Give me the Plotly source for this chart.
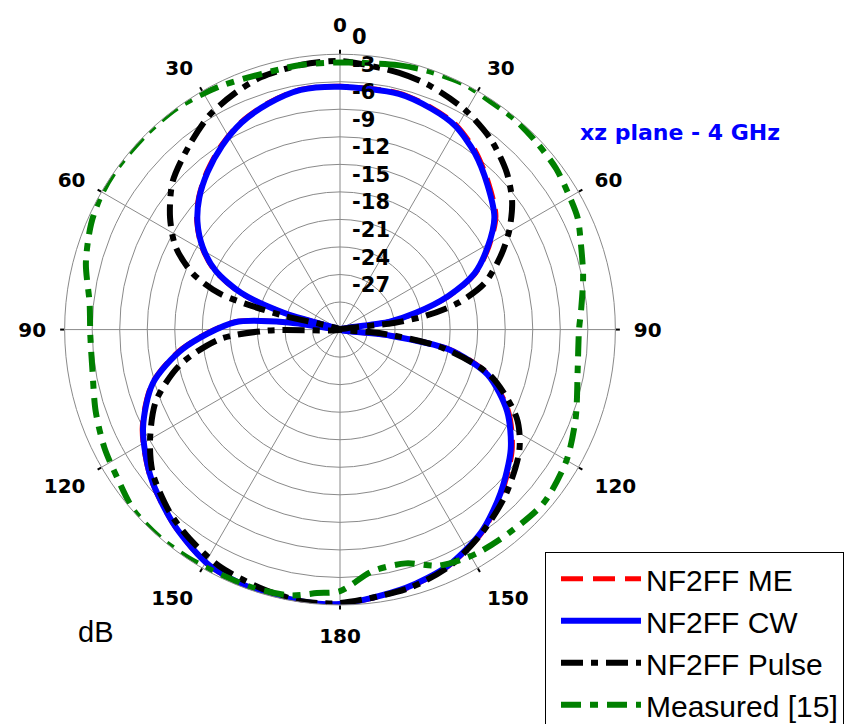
import plotly.graph_objects as go

# ---- data (angle in degrees from top, clockwise; value in dB) ----
theta_cw = [0, 14, 22.5, 29.5, 37.3, 45.6, 54, 60.8, 67.4, 72.8, 77.5, 81, 88,
            96.8, 100.3, 107, 116, 125, 135.5, 145, 155.4, 165.7, 180,
            -172, -161, -151, -140, -127.9, -116.6, -106, -97, -86, -82, -78,
            -73.4, -69.7, -64.7, -59, -52.8, -46.9, -40.2, -32.7, -25.5, -17.6, -9.3, 0]
db_cw = [-3.54, -3.54, -3.96, -4.5, -5.79, -7.5, -9.21, -11.57, -14.14, -17.68, -21.54, -24.6, -30,
         -24.64, -18.0, -13.18, -9.75, -7.29, -5.04, -3.11, -1.71, -0.96, -0.1,
         -0.1, -0.21, -0.64, -2.04, -3.86, -6.0, -8.79, -12.75, -18.54, -24.6, -30,
         -23.68, -18.54, -15.0, -12.54, -10.5, -9.0, -7.61, -6.21, -5.04, -4.18, -3.54, -3.54]

theta_me = [0, 14, 22.5, 29.5, 37.3, 45.6, 54, 60.8, 67.4, 72.8, 77.5, 81, 88,
            96.8, 100.3, 107, 116, 125, 135.5, 145, 155.4, 165.7, 180,
            -172, -161, -151, -140, -127.9, -116.6, -106, -97, -86, -82, -78,
            -73.4, -69.7, -64.7, -59, -52.8, -46.9, -40.2, -32.7, -25.5, -17.6, -9.3, 0]
db_me = [-3.5, -3.45, -3.85, -4.35, -5.6, -7.3, -9.0, -11.4, -14.0, -17.5, -21.4, -24.5, -30,
         -24.5, -17.8, -13.0, -9.55, -7.1, -4.9, -3.0, -1.65, -0.9, -0.1,
         -0.1, -0.2, -0.6, -2.0, -3.8, -5.9, -8.7, -12.6, -18.4, -24.5, -30,
         -23.5, -18.4, -14.85, -12.4, -10.4, -8.9, -7.5, -6.1, -4.95, -4.1, -3.5, -3.5]

theta_pulse = [0, 13, 20.6, 29.6, 38.3, 46.7, 53.4, 59.8, 65.6, 72.3, 77.3, 80.9, 83, 88,
               95, 100, 107, 116.6, 124, 135, 145, 155, 165, 180,
               -171.8, -163, -152.9, -144.3, -137, -127.5, -120.4, -111.3, -102.5, -94.6, -90.8, -84,
               -76.2, -75, -73.3, -69.2, -63.3, -56.6, -48.6, -39.3, -31.5, -24, -17.3, -8.5, 0]
db_pulse = [-0.75, -1.29, -1.71, -2.46, -3.54, -5.04, -6.64, -8.68, -10.82, -13.5, -16.82, -20.57, -24.11, -30,
            -25.71, -18.75, -12.86, -8.46, -6.43, -4.5, -3.0, -1.61, -0.86, -0.21,
            -0.11, -0.54, -1.07, -1.93, -2.79, -4.29, -6.0, -8.46, -12.11, -16.82, -22.18, -30,
            -23.68, -20.04, -16.29, -12.86, -9.96, -7.82, -5.68, -4.07, -2.68, -1.82, -1.18, -0.86, -0.75]

theta_meas = [0, 12.4, 19.4, 27, 33.4, 39.6, 46.5, 53.3, 59.5, 64.8, 70.4, 77.7, 85.3, 90,
              99.4, 110.6, 120, 130.4, 140, 147.7, 151.4, 157.4, 164.3, 172.4, 180,
              -175, -169.5, -161.7, -154.4, -146.7, -139.3, -131.5, -123.5, -116.6, -108.5,
              -99, -91.3, -84, -75.4, -67, -60, -53.7, -45, -36.3, -26.5, -17, -8.5, 0]
db_meas = [-0.9, -0.5, -0.2, 0, -0.21, -0.21, -0.43, -0.64, -1.07, -1.39, -2.14, -2.89, -3.64, -3.96,
           -3.75, -2.57, -1.5, -0.86, -1.18, -1.39, -1.61, -2.14, -3.54, -3.43, -1.5,
           -1.18, -0.54, -0.32, -0.32, -0.11, 0, -0.11, -0.86, -1.29, -1.93,
           -2.68, -2.79, -2.57, -1.39, -0.54, -0.11, 0, 0, 0, -0.43, -0.86, -0.86, -0.9]

angle_ticks = [0, 30, 60, 90, 120, 150, 180, 210, 240, 270, 300, 330]
angle_labels = ["0", "30", "60", "90", "120", "150", "180", "150", "120", "90", "60", "30"]
db_ticks = [0, -3, -6, -9, -12, -15, -18, -21, -24, -27]
db_labels = ["0", "-3", "-6", "-9", "-12", "-15", "-18", "-21", "-24", "-27"]
ring_vals = [-27, -24, -21, -18, -15, -12, -9, -6, -3, 0]

W, H = 859, 724
DX = 8  # page body margin offset
dom = dict(x=[(60 - DX) / W, (620 - DX) / W], y=[1 - 607 / H, 1 - 47 / H])

fig = go.Figure()
fig.add_trace(go.Scatterpolar(theta=theta_me, r=db_me, mode="lines", name="NF2FF ME",
                              line=dict(color="#ff0000", width=5, dash="22px,10px", shape="spline", smoothing=0.8)))
fig.add_trace(go.Scatterpolar(theta=theta_cw, r=db_cw, mode="lines", name="NF2FF CW",
                              line=dict(color="#0000ff", width=6, shape="spline", smoothing=0.8)))
fig.add_trace(go.Scatterpolar(theta=theta_pulse, r=db_pulse, mode="lines", name="NF2FF Pulse",
                              line=dict(color="#000000", width=6, dash="22px,8px,7px,8px", shape="spline", smoothing=0.8)))
fig.add_trace(go.Scatterpolar(theta=theta_meas, r=db_meas, mode="lines", name="Measured [15]",
                              line=dict(color="#008000", width=6, dash="20px,9px,8px,9px", shape="spline", smoothing=0.8)))
# radial labels drawn through the polar scales (invisible markers give the text offset)
fig.add_trace(go.Scatterpolar(theta=[0] * len(db_ticks), r=db_ticks, mode="markers+text",
                              text=["\u00a0" + s for s in db_labels], textposition="top right", cliponaxis=False,
                              marker=dict(size=6, opacity=0),
                              textfont=dict(family="DejaVu Sans", size=21, color="black", weight="bold"),
                              showlegend=False, hoverinfo="skip"))
# overlay subplot that only draws the short black tick marks on the outer circle
fig.add_trace(go.Scatterpolar(theta=[0], r=[-30], mode="markers", marker=dict(size=1, opacity=0),
                              subplot="polar2", showlegend=False, hoverinfo="skip"))

fig.update_layout(
    width=W, height=H,
    margin=dict(l=0, r=0, t=0, b=0),
    paper_bgcolor="white", plot_bgcolor="white",
    polar=dict(
        domain=dom,
        bgcolor="white",
        radialaxis=dict(range=[-30, 0], tickvals=ring_vals, showticklabels=False, ticks="",
                        showline=False, gridcolor="#8a8a8a", gridwidth=0.8, angle=90),
        angularaxis=dict(rotation=90, direction="clockwise", tickvals=angle_ticks, ticktext=angle_labels,
                         ticks="outside", ticklen=14, tickcolor="rgba(0,0,0,0)", showline=True,
                         linecolor="#8a8a8a", linewidth=1, gridcolor="#8a8a8a", gridwidth=0.8,
                         tickfont=dict(family="DejaVu Sans", size=20, color="black", weight="bold")),
    ),
    polar2=dict(
        domain=dom,
        bgcolor="rgba(0,0,0,0)",
        radialaxis=dict(range=[-30, 0], visible=False),
        angularaxis=dict(rotation=90, direction="clockwise", tickvals=angle_ticks, showticklabels=False,
                         ticks="outside", ticklen=4, tickwidth=1.5, tickcolor="black",
                         showline=False, showgrid=False),
    ),
    legend=dict(x=(545 - DX) / W, y=1 - 553 / H, xanchor="left", yanchor="top",
                bordercolor="black", borderwidth=1, bgcolor="white", itemwidth=80, indentation=10,
                font=dict(family="Liberation Sans", size=30, color="black"), tracegroupgap=0),
    annotations=[
        dict(text="<b>xz plane - 4 GHz</b>", x=(680 - DX) / W, y=1 - 127 / H, xref="paper", yref="paper",
             xanchor="center", yanchor="middle",
             showarrow=False, font=dict(family="DejaVu Sans", size=22, color="#0000ff")),
        dict(text="dB", x=(95 - DX) / W, y=1 - 635 / H, xref="paper", yref="paper",
             xanchor="center", yanchor="middle",
             showarrow=False, font=dict(family="Liberation Sans", size=29, color="black")),
    ],
)
fig.write_html("out.html")
